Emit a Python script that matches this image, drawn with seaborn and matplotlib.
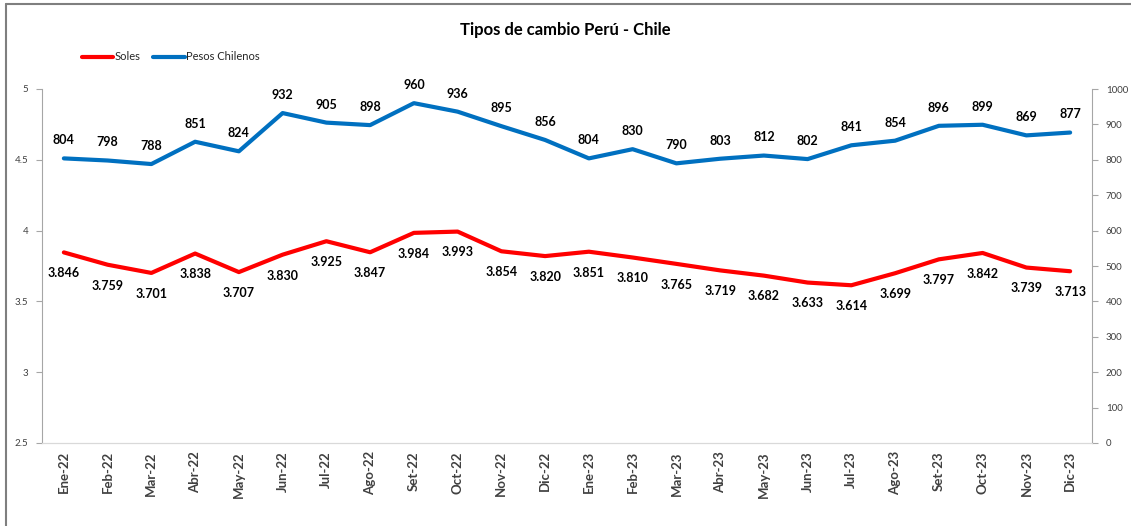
import matplotlib
matplotlib.use("Agg")
import matplotlib.pyplot as plt
import seaborn as sns
import pandas as pd
import numpy as np
from matplotlib.lines import Line2D

months = ["Ene-22", "Feb-22", "Mar-22", "Abr-22", "May-22", "Jun-22", "Jul-22", "Ago-22",
          "Set-22", "Oct-22", "Nov-22", "Dic-22", "Ene-23", "Feb-23", "Mar-23", "Abr-23",
          "May-23", "Jun-23", "Jul-23", "Ago-23", "Set-23", "Oct-23", "Nov-23", "Dic-23"]
soles = [3.846, 3.759, 3.701, 3.838, 3.707, 3.830, 3.925, 3.847, 3.984, 3.993, 3.854, 3.820,
         3.851, 3.810, 3.765, 3.719, 3.682, 3.633, 3.614, 3.699, 3.797, 3.842, 3.739, 3.713]
pesos = [804, 798, 788, 851, 824, 932, 905, 898, 960, 936, 895, 856,
         804, 830, 790, 803, 812, 802, 841, 854, 896, 899, 869, 877]

df = pd.DataFrame({"mes": months, "idx": range(len(months)), "soles": soles, "pesos": pesos})

sns.set_style("white")
plt.rcParams["font.family"] = ["Lato", "DejaVu Sans"]

red = "#ff0000"
blue = "#0070c0"
axis_gray = "#a6a6a6"

fig = plt.figure(figsize=(11.31, 5.26), dpi=100)
ax = fig.add_axes([42 / 1131, 1 - 443 / 526, 1050 / 1131, 354 / 526])
ax2 = ax.twinx()

sns.lineplot(data=df, x="idx", y="soles", ax=ax, color=red, linewidth=3, legend=False)
sns.lineplot(data=df, x="idx", y="pesos", ax=ax2, color=blue, linewidth=3, legend=False)

# data labels: soles below, pesos above
for i, row in df.iterrows():
    ax.annotate(f"{row['soles']:.3f}", xy=(row["idx"], row["soles"]), xytext=(0, -15),
                textcoords="offset points", ha="center", va="center",
                fontsize=9, fontweight="bold", color="black")
    ax2.annotate(f"{int(row['pesos'])}", xy=(row["idx"], row["pesos"]), xytext=(0, 13),
                 textcoords="offset points", ha="center", va="center",
                 fontsize=9, fontweight="bold", color="black")

ax.set_xlim(-0.5, len(months) - 0.5)
ax.set_ylim(2.5, 5)
ax2.set_ylim(0, 1000)

ax.set_yticks([2.5, 3, 3.5, 4, 4.5, 5])
ax.set_yticklabels(["2.5", "3", "3.5", "4", "4.5", "5"])
ax2.set_yticks(range(0, 1001, 100))

ax.set_xticks(df["idx"])
ax.set_xticklabels(months, rotation=90, fontsize=9.5, fontweight="bold", color="#404040")
ax.set_xticks(np.arange(-0.5, len(months), 1), minor=True)
ax.tick_params(axis="x", which="major", length=0, pad=6)
ax.tick_params(axis="x", which="minor", length=4, color=axis_gray, width=0.8)
ax.tick_params(axis="y", length=4, color=axis_gray, labelsize=7, labelcolor="#404040", pad=6)
ax2.tick_params(axis="y", length=4, color=axis_gray, labelsize=7, labelcolor="#404040", pad=6)

ax.set_xlabel("")
ax.set_ylabel("")
ax2.set_ylabel("")

for a in (ax, ax2):
    for s in a.spines.values():
        s.set_visible(False)
    a.spines["bottom"].set_visible(True)
    a.spines["bottom"].set_color("#d9d9d9")
ax.spines["left"].set_visible(True)
ax.spines["left"].set_color(axis_gray)
ax2.spines["right"].set_visible(True)
ax2.spines["right"].set_color(axis_gray)

fig.text(0.5, 1 - 30 / 526, "Tipos de cambio Perú - Chile", ha="center", va="center",
         fontsize=12, fontweight="bold", color="black")

handles = [Line2D([], [], color=red, linewidth=3), Line2D([], [], color=blue, linewidth=3)]
fig.legend(handles, ["Soles", "Pesos Chilenos"], loc="center left",
           bbox_to_anchor=(72 / 1131, 1 - 57 / 526), ncol=2, frameon=False,
           fontsize=8, handlelength=2.8, handletextpad=0.1, columnspacing=1.2)

# outer chart border
fig.add_artist(Line2D([6 / 1131, 6 / 1131], [0, 1 - 4 / 526], color="#7f7f7f", linewidth=1.5,
                      transform=fig.transFigure))
fig.add_artist(Line2D([6 / 1131, 1], [1 - 4 / 526, 1 - 4 / 526], color="#7f7f7f", linewidth=1.5,
                      transform=fig.transFigure))

fig.savefig("out.png", dpi=100, facecolor="white")
